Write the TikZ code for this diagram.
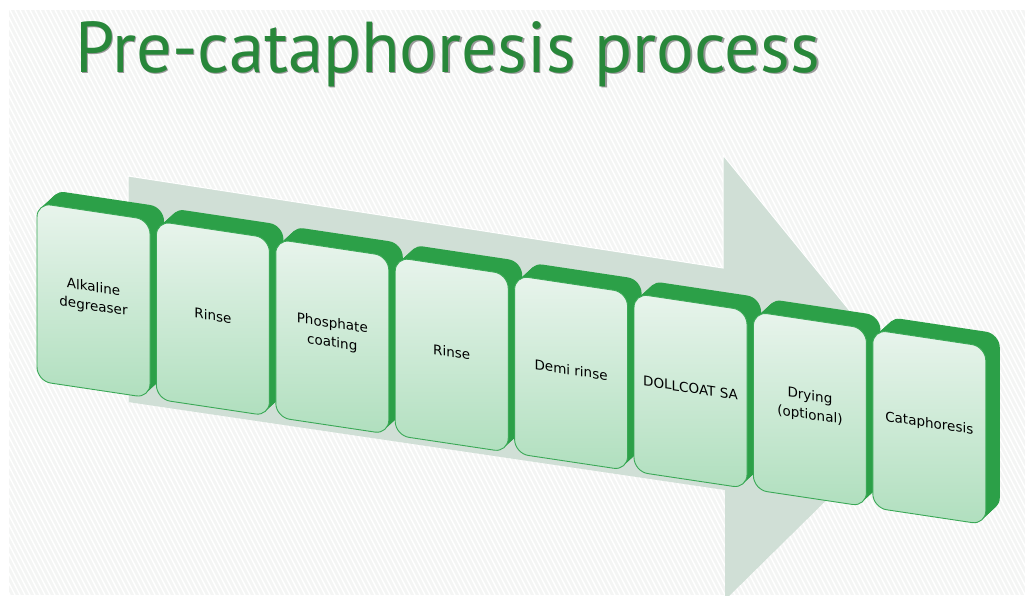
\documentclass[tikz,border=0pt]{standalone}
\usepackage{fontspec}
\setmainfont{DejaVu Sans}
\newfontfamily\titlefont[FakeStretch=0.98]{PT Sans}
\usetikzlibrary{positioning}
\definecolor{bgc}{RGB}{244,245,244}
\definecolor{arrowc}{RGB}{208,223,214}
\definecolor{extc}{RGB}{44,160,72}
\definecolor{edgec}{RGB}{58,168,86}
\definecolor{facetop}{RGB}{232,244,236}
\definecolor{facebot}{RGB}{176,223,190}
\definecolor{titlec}{RGB}{40,135,58}
\tikzset{
  ext/.style={fill=extc,rounded corners=14pt},
  face/.style={draw=edgec,line width=0.9pt,rounded corners=14pt,
               top color=facetop,bottom color=facebot},
  lbl/.style={align=center,font=\fontsize{13.5}{19}\selectfont,transform shape},
}
\begin{document}
\begin{tikzpicture}[x=1pt,y=-1pt]
  \useasboundingbox (0,0) rectangle (1025,595);
  \fill[white] (0,0) rectangle (1025,595);
  % --- striped background ---
  \fill[bgc] (9,10) rectangle (1025,595);
  \begin{scope}
    \clip (9,10) rectangle (1025,595);
    \foreach \x in {-400,-395,...,1025}{\draw[white,line width=1.4pt] (\x,10) -- ++(300,585);}
  \end{scope}
  % --- title ---
  \node[anchor=base west,text=black!40,inner sep=0pt] at (76.5,73.5)
       {\titlefont\fontsize{72}{72}\selectfont Pre-cataphoresis process};
  \node[anchor=base west,text=titlec,inner sep=0pt] (title) at (75,72)
       {\titlefont\fontsize{72}{72}\selectfont Pre-cataphoresis process};
  % --- big arrow ---
  \fill[arrowc] (128,176) -- (723,268) -- (723,155) -- (925,403)
                -- (725,600) -- (725,490) -- (128,402) -- cycle;
  \draw[white,line width=1pt] (128,402) -- (128,176) -- (723,268) -- (723,155) -- (925,403);
  % --- process stages ---
  \foreach \i/\txt in {0/{Alkaline\\degreaser},1/Rinse,2/{Phosphate\\coating},3/Rinse,
                       4/Demi rinse,5/DOLLCOAT SA,6/{Drying\\(optional)},7/Cataphoresis}{
    \begin{scope}[shift={(37+119.4*\i,203+18.1*\i)},yslant=-0.15]
      \foreach \k in {14,13,...,1}{\fill[ext] (\k,-15*\k/14) rectangle ++(113,178);}
      \draw[face] (0,0) rectangle (113,178);
      \node[lbl] (s\i) at (56.5,86) {\txt};
    \end{scope}
  }
\end{tikzpicture}
\end{document}
